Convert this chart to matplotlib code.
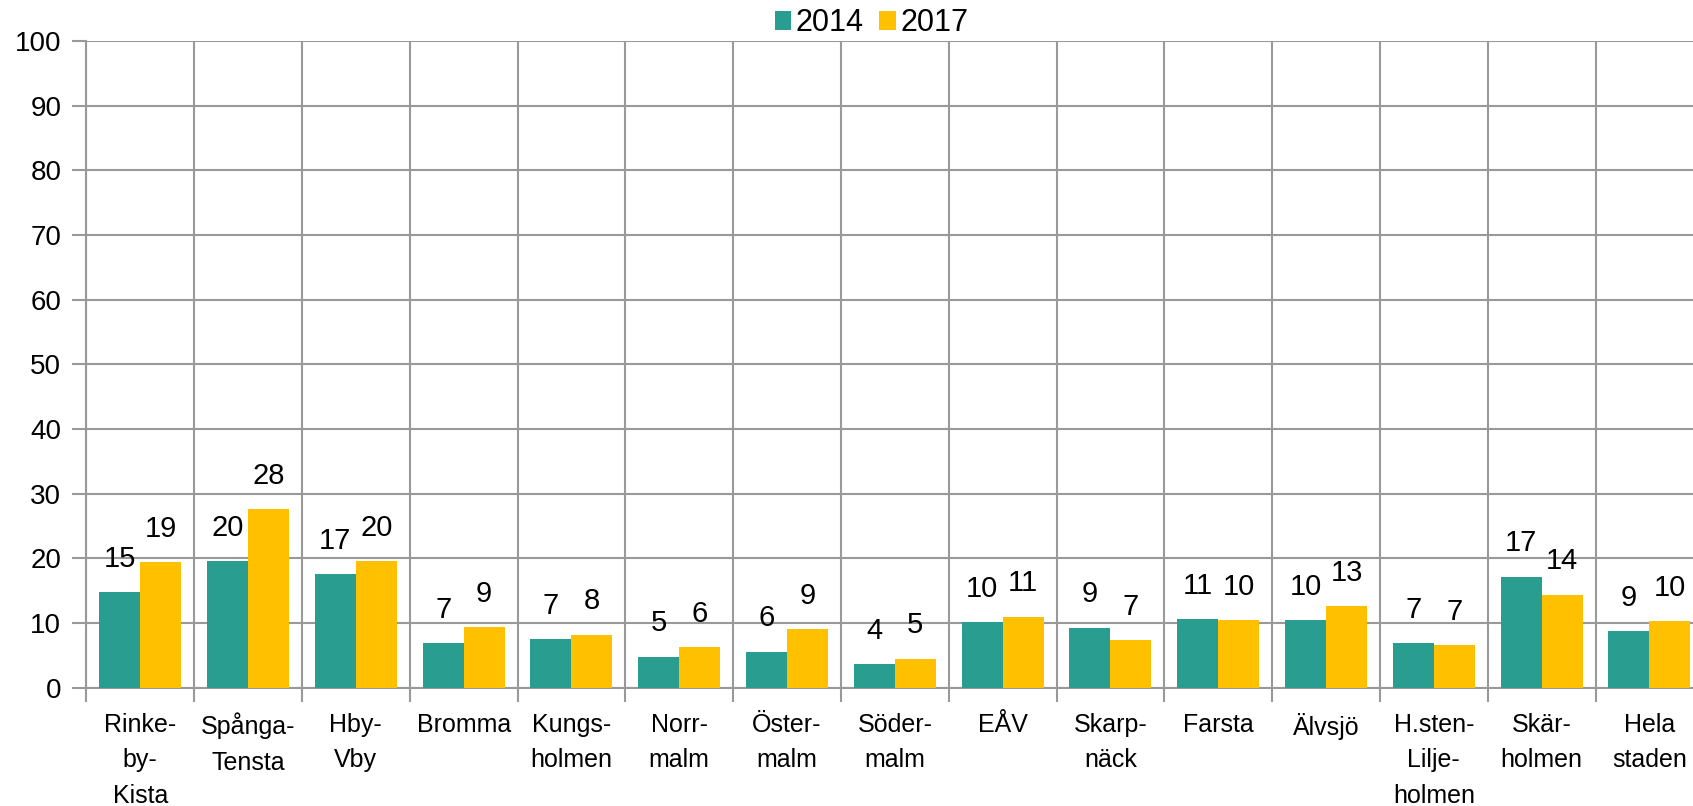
import matplotlib
import numpy as np
import matplotlib.pyplot as plt

matplotlib.use('Agg')
plt.rcParams['font.family'] = ['Liberation Sans', 'DejaVu Sans']

# Data
categories = ["Rinke-\nby-\nKista", "Spånga-\nTensta", "Hby-\nVby", "Bromma",
              "Kungs-\nholmen", "Norr-\nmalm", "Öster-\nmalm", "Söder-\nmalm",
              "EÅV", "Skarp-\nnäck", "Farsta", "Älvsjö",
              "H.sten-\nLilje-\nholmen", "Skär-\nholmen", "Hela\nstaden"]
# bar heights (unrounded)
v2014 = [14.8, 19.6, 17.6, 6.9, 7.5, 4.8, 5.6, 3.6, 10.1, 9.3, 10.6, 10.4, 6.9, 17.2, 8.8]
v2017 = [19.4, 27.6, 19.6, 9.4, 8.2, 6.3, 9.1, 4.5, 11.0, 7.4, 10.4, 12.6, 6.6, 14.4, 10.3]
# printed labels
lab2014 = [15, 20, 17, 7, 7, 5, 6, 4, 10, 9, 11, 10, 7, 17, 9]
lab2017 = [19, 28, 20, 9, 8, 6, 9, 5, 11, 7, 10, 13, 7, 14, 10]
series = ["2014", "2017"]
colors = ["#2A9D91", "#FFC000"]
grid_col = "#999999"

fig = plt.figure(figsize=(16.93, 8.06), dpi=100)
ax = fig.add_axes([0.051, 0.1467, 0.9551, 0.8024])

x = np.arange(len(categories))
w = 0.38
b1 = ax.bar(x - w / 2, v2014, w, color=colors[0], label=series[0], zorder=3)
b2 = ax.bar(x + w / 2, v2017, w, color=colors[1], label=series[1], zorder=3)

for bars, labs in ((b1, lab2014), (b2, lab2017)):
    for r, lab in zip(bars, labs):
        ax.annotate(str(lab), (r.get_x() + r.get_width() / 2, r.get_height()),
                    xytext=(0, 24), textcoords='offset points',
                    ha='center', va='center', fontsize=21, zorder=4)

ax.set_xlim(-0.5, len(categories) - 0.5)
ax.set_ylim(0, 100)
ax.set_yticks(np.arange(0, 101, 10))
ax.set_xticks(x)
ax.set_xticklabels(categories, fontsize=18, linespacing=1.6)
ax.set_xticks(np.arange(-0.5, len(categories), 1), minor=True)
ax.tick_params(axis='x', which='major', length=0, pad=18)
ax.tick_params(axis='x', which='minor', length=10, color=grid_col, width=1.5)
ax.tick_params(axis='y', length=10, color=grid_col, width=1.5, labelsize=20, pad=8)

ax.grid(axis='y', which='major', color=grid_col, lw=1.5, zorder=0)
ax.grid(axis='x', which='minor', color=grid_col, lw=1.5, zorder=0)
for s in ('top', 'right'):
    ax.spines[s].set_visible(False)
for s in ('left', 'bottom'):
    ax.spines[s].set_color(grid_col)
    ax.spines[s].set_linewidth(1.5)

fig.legend(loc='center', bbox_to_anchor=(0.5148, 0.971), ncol=2, frameon=False,
           fontsize=22, handlelength=0.55, handleheight=0.55, handletextpad=0.15,
           columnspacing=0.5)

fig.savefig("out.png", dpi=100)
